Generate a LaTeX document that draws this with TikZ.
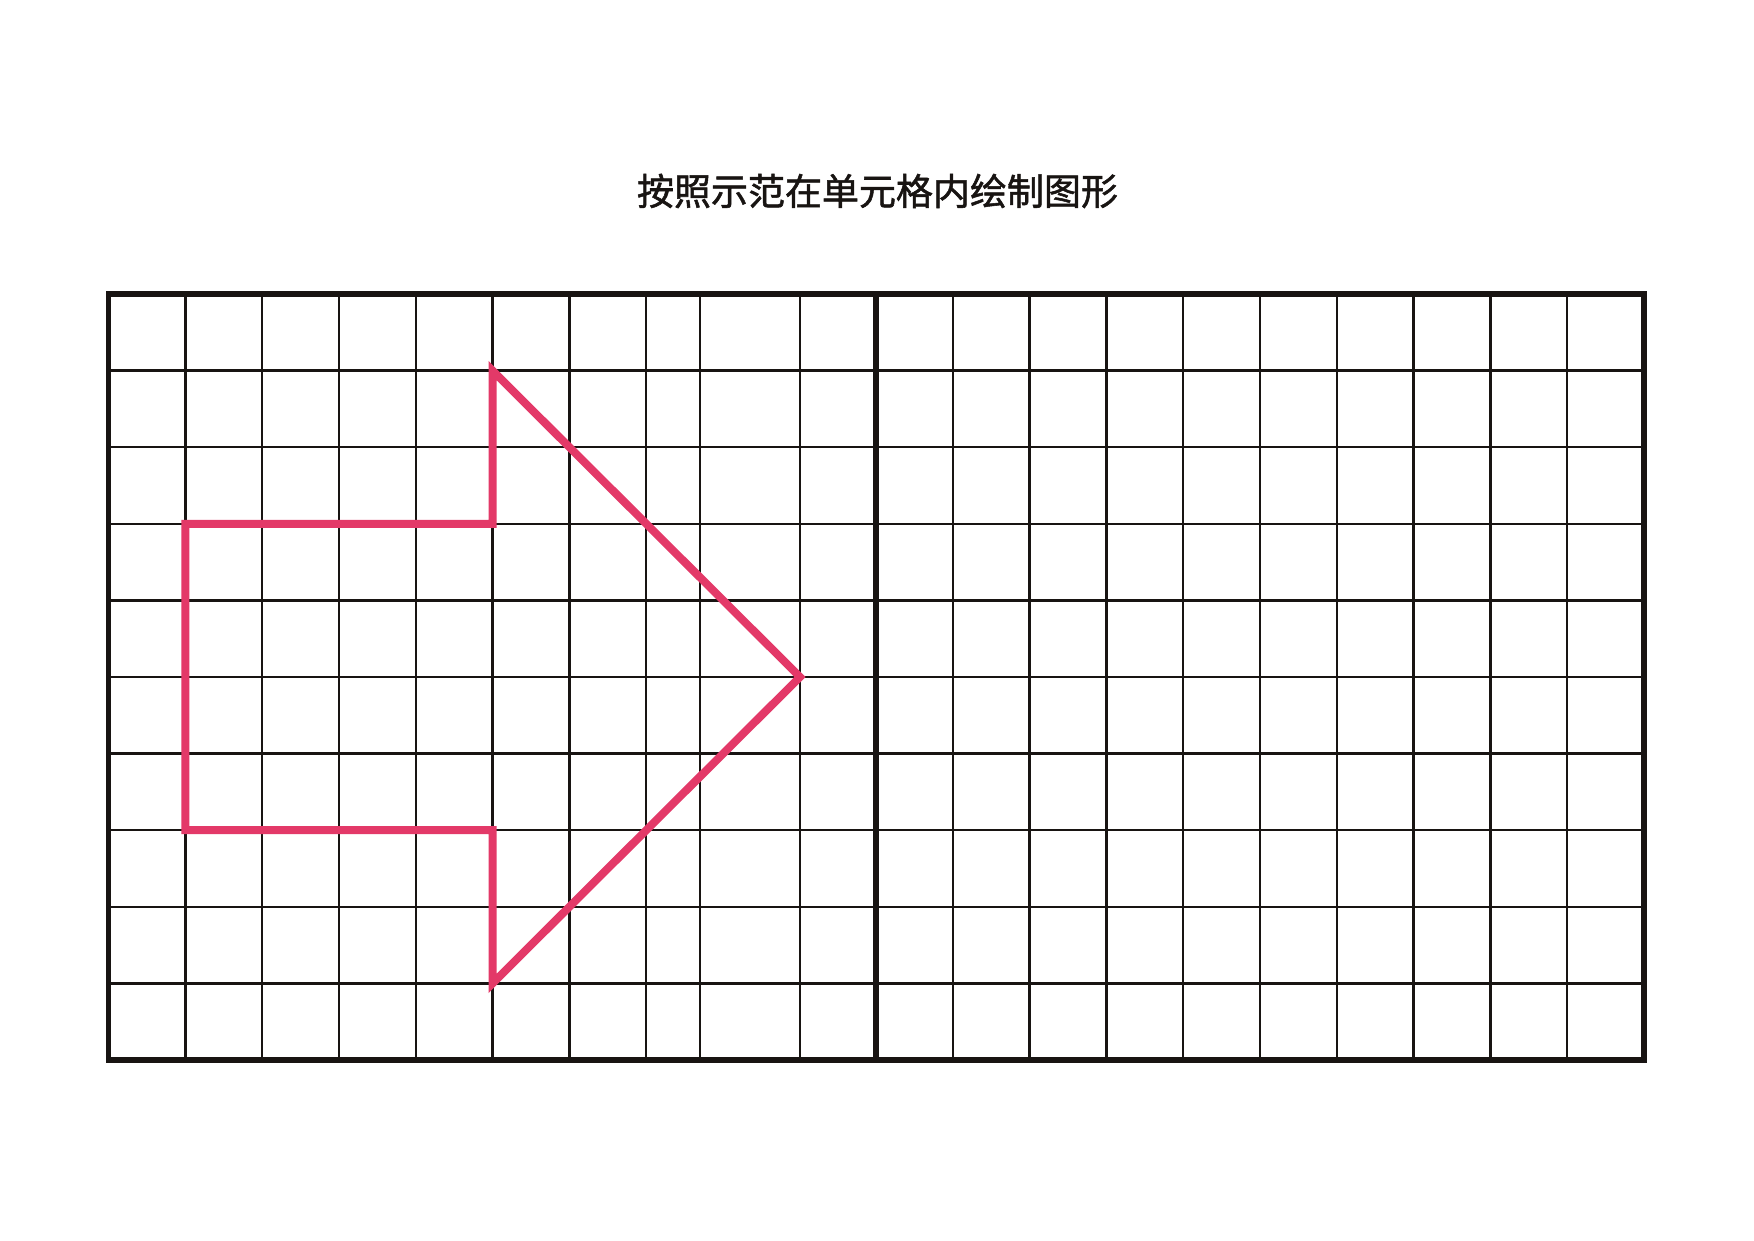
\documentclass[tikz,border=0pt]{standalone}
\usepackage{fontspec}
\newfontfamily\cjk[FakeBold=1.4]{Noto Sans CJK SC}
\definecolor{arrowpink}{RGB}{227,57,104}
\definecolor{gridblack}{RGB}{24,20,18}
\begin{document}
\begin{tikzpicture}[x=1pt,y=1pt,
  thin grid/.style={draw=gridblack,line width=2.5pt},
  thick frame/.style={draw=gridblack,line width=5.5pt,line cap=rect},
  divider/.style={draw=gridblack,line width=6pt},
  shape line/.style={draw=arrowpink,line width=8pt,line join=miter},
  title/.style={font=\cjk\fontsize{37}{40}\selectfont,text=gridblack,inner sep=0pt}]
\useasboundingbox (0,0) rectangle (1754,1240);
\fill[white] (0,0) rectangle (1754,1240);
% title
\node[title] (title) at (877.5,1049) {按照示范在单元格内绘制图形};
% horizontal lines
\foreach \r in {1,...,9}{
  \draw[thin grid] (108.5,{946-76.6*\r}) -- (1644,{946-76.6*\r});
}
% vertical lines, left grid (irregular as in the reference)
\foreach \xx in {185.3,262,339,415.8,492.5,569.3,646,700,800}{
  \draw[thin grid] (\xx,180) -- (\xx,946);
}
% vertical lines, right grid
\foreach \c in {1,...,9}{
  \draw[thin grid] ({876+76.8*\c},180) -- ({876+76.8*\c},946);
}
% frame and divider
\draw[divider] (876,180) -- (876,946);
\draw[thick frame] (108.5,180) rectangle (1644,946);
% arrow shape
\coordinate (a1) at (492.5,869.4);
\coordinate (a2) at (492.5,716.2);
\coordinate (a3) at (185.3,716.2);
\coordinate (a4) at (185.3,409.8);
\coordinate (a5) at (492.5,409.8);
\coordinate (a6) at (492.5,256.6);
\coordinate (a7) at (800,563);
\draw[shape line] (a1) -- (a2) -- (a3) -- (a4) -- (a5) -- (a6) -- (a7) -- cycle;
\end{tikzpicture}
\end{document}
